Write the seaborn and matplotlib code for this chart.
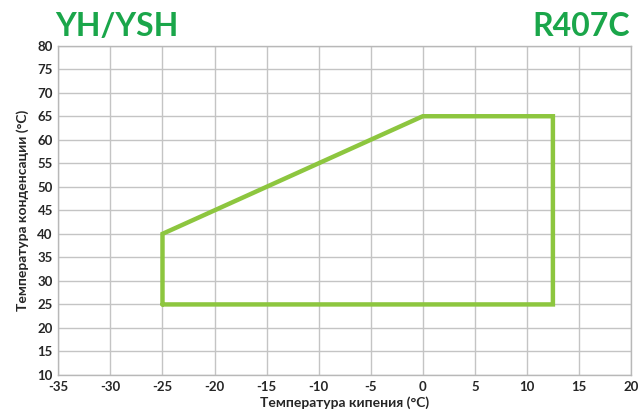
import matplotlib
matplotlib.use("Agg")
import matplotlib.pyplot as plt
import seaborn as sns
import pandas as pd

# envelope corners (evaporating temp, condensing temp)
evap_temp = [-25, -25, 0, 12.5, 12.5, -25]
cond_temp = [25, 40, 65, 65, 25, 25]

x_ticks = list(range(-35, 21, 5))
y_ticks = list(range(10, 81, 5))

line_color = "#8dc63f"
title_color = "#1aa64a"

sns.set_style("white")
plt.rcParams["font.family"] = ["Lato", "DejaVu Sans"]
plt.rcParams["axes.unicode_minus"] = False

df = pd.DataFrame({"evap": evap_temp, "cond": cond_temp})

fig = plt.figure(figsize=(6.38, 4.19), dpi=100)
ax = fig.add_axes([0.0915, 0.105, 0.8975, 0.786])

# keep point order so the envelope closes as one path
sns.lineplot(data=df, x="evap", y="cond", sort=False, estimator=None,
             color=line_color, linewidth=3.2, ax=ax, zorder=3,
             solid_joinstyle="miter")

ax.set_xlim(-35, 20)
ax.set_ylim(10, 80)
ax.set_xticks(x_ticks)
ax.set_yticks(y_ticks)
ax.grid(True, color="#c4c4c4", linewidth=1)
for s in ax.spines.values():
    s.set_color("#b8b8b8")
    s.set_linewidth(1)
ax.tick_params(axis="both", length=0, labelsize=9.5, pad=4)
for lbl in ax.get_xticklabels() + ax.get_yticklabels():
    lbl.set_fontweight("bold")

ax.set_xlabel("Температура кипения (°C)", fontsize=10, fontweight="bold", labelpad=3)
ax.set_ylabel("Температура конденсации (°C)", fontsize=10, fontweight="bold", labelpad=6)

fig.text(0.087, 0.937, "YH/YSH", color=title_color, fontsize=23, fontweight="bold",
         ha="left", va="center")
fig.text(0.988, 0.937, "R407C", color=title_color, fontsize=23, fontweight="bold",
         ha="right", va="center")

fig.savefig("out.png", dpi=100)
